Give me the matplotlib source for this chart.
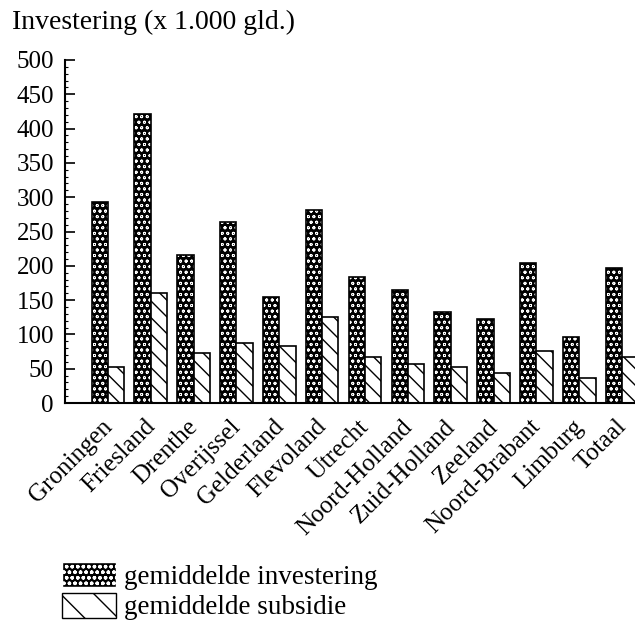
import matplotlib
matplotlib.use("Agg")
import matplotlib.pyplot as plt
import matplotlib.transforms as mtransforms
import numpy as np
from matplotlib.patches import Patch

categories = ["Groningen", "Friesland", "Drenthe", "Overijssel", "Gelderland", "Flevoland",
              "Utrecht", "Noord-Holland", "Zuid-Holland", "Zeeland", "Noord-Brabant",
              "Limburg", "Totaal"]
investering = [293, 422, 216, 264, 155, 281, 184, 165, 133, 122, 204, 96, 197]
subsidie = [52, 160, 73, 87, 83, 126, 67, 57, 52, 44, 76, 37, 67]
yticks = [0, 50, 100, 150, 200, 250, 300, 350, 400, 450, 500]

plt.rcParams['font.family'] = ['Liberation Serif', 'DejaVu Serif']

fig = plt.figure(figsize=(6.35, 6.21), dpi=100)
ax = fig.add_axes([65/635, 1-403/621, 1-65/635, (403-60)/621])

x = np.arange(len(categories))
w = 0.38
plt.rcParams['hatch.linewidth'] = 0.6
ax.bar(x - w/2, investering, w, color='black', edgecolor='white', hatch='ooo', linewidth=0)
dark_handle = Patch(facecolor='black', edgecolor='white', hatch='ooo')
plt.rcParams['hatch.linewidth'] = 1.0
ax.bar(x - w/2, investering, w, fill=False, edgecolor='black', linewidth=1.2)
ax.bar(x + w/2, subsidie, w, color='white', edgecolor='black', hatch='\\\\', linewidth=1.2)
light_handle = Patch(facecolor='white', edgecolor='black', hatch='\\')

ax.set_xlim(-1.0, 12.3)
ax.set_ylim(0, 500)
ax.set_yticks(yticks)
ax.set_yticks(np.arange(0, 501, 10), minor=True)
ax.tick_params(axis='y', direction='in', length=7, width=1.2, labelsize=18, pad=8)
ax.tick_params(axis='y', which='minor', direction='in', length=2, width=0.8)
ax.set_xticks(x)
ax.set_xticklabels(categories, rotation=45, ha='right', rotation_mode='anchor', fontsize=18)
ax.tick_params(axis='x', length=0, pad=9)
shift = mtransforms.ScaledTranslation(-7/100, 0, fig.dpi_scale_trans)
for lab in ax.get_xticklabels():
    lab.set_transform(lab.get_transform() + shift)
for s in ['top', 'right']:
    ax.spines[s].set_visible(False)
ax.spines['left'].set_linewidth(1.5)
ax.spines['bottom'].set_linewidth(1.5)

fig.text(12/635, 1-22/621, "Investering (x 1.000 gld.)", fontsize=20, va='center', ha='left')

leg = fig.legend([dark_handle, light_handle], ["gemiddelde investering", "gemiddelde subsidie"],
                 loc='upper left', bbox_to_anchor=(62/635, 1-562/621), frameon=False,
                 fontsize=19.5, handlelength=2.0, handleheight=1.05, handletextpad=0.3,
                 labelspacing=0.1, borderaxespad=0, borderpad=0)

fig.savefig("out.png", dpi=100)
